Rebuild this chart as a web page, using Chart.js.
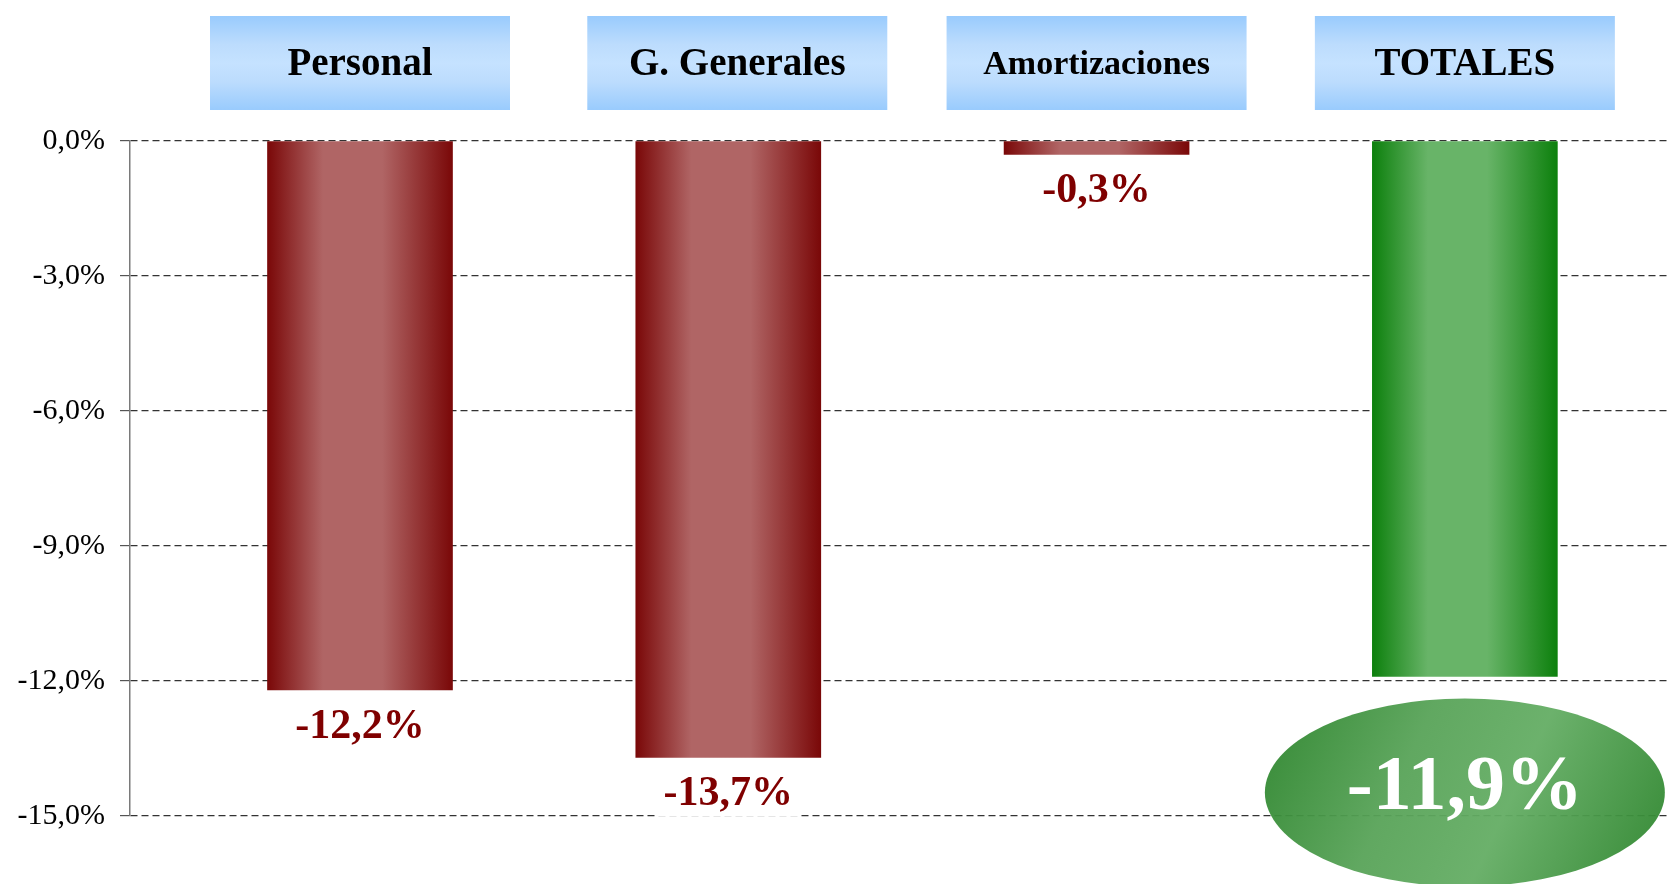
<!DOCTYPE html>
<html>
<head>
<meta charset="utf-8">
<script src="https://cdn.jsdelivr.net/npm/chart.js@4/dist/chart.umd.min.js"></script>
<style>
  html, body { margin: 0; padding: 0; background: #fff; }
  #wrap { width: 1670px; height: 884px; position: relative; }
</style>
</head>
<body>
<div id="wrap"><canvas id="chart" width="1670" height="884"></canvas></div>
<script>
/* données du graphique */
const categories = ["Personal", "G. Generales", "Amortizaciones", "TOTALES"];
const values = [-12.2, -13.7, -0.3, -11.9];
const yTicks = [0, -3, -6, -9, -12, -15];

// format des pourcentages (virgule décimale)
const fmt = v => (v === 0 ? 0 : v).toFixed(1).replace(".", ",") + "%";

const BAR_W = 185;
// léger décalage des cadres (comme sur l'original)
const boxShift = [0, 9, 0, 0];

// dégradé horizontal pour chaque barre
function barGradient(ctx, left, right, dark, light) {
  const g = ctx.createLinearGradient(left, 0, right, 0);
  g.addColorStop(0, dark);
  g.addColorStop(0.3, light);
  g.addColorStop(0.45, light);
  g.addColorStop(0.62, light);
  g.addColorStop(1, dark);
  return g;
}

/* plugin : cadres des catégories en haut + étiquettes des valeurs */
const decorPlugin = {
  id: "decor",
  beforeDatasetsDraw(chart) {
    // dégradés des barres, posés une fois les positions connues
    const meta = chart.getDatasetMeta(0);
    meta.data.forEach((bar, i) => {
      const half = BAR_W / 2;
      bar.options.backgroundColor = i === 3
        ? barGradient(chart.ctx, bar.x - half, bar.x + half, "#0d800d", "#68b468")
        : barGradient(chart.ctx, bar.x - half, bar.x + half, "#7a0808", "#b06565");
    });
  },
  afterDatasetsDraw(chart) {
    const ctx = chart.ctx;
    const xs = chart.scales.x;
    const ys = chart.scales.y;
    const meta = chart.getDatasetMeta(0);

    categories.forEach((cat, i) => {
      const cx = xs.getPixelForValue(i) + boxShift[i];
      // cadre bleu
      const w = 300, top = 16, h = 94;
      const g = ctx.createLinearGradient(0, top, 0, top + h);
      g.addColorStop(0, "#99cbfd");
      g.addColorStop(0.3, "#bcdcfd");
      g.addColorStop(0.5, "#c5e2ff");
      g.addColorStop(0.7, "#bcdcfd");
      g.addColorStop(1, "#99cbfd");
      ctx.save();
      ctx.fillStyle = g;
      ctx.fillRect(cx - w / 2, top, w, h);
      ctx.fillStyle = "#000";
      ctx.font = (i === 2 ? "bold 34px" : "bold 39px") + " 'Liberation Serif', serif";
      ctx.textAlign = "center";
      ctx.textBaseline = "middle";
      ctx.fillText(cat, cx, top + h / 2 + 2);
      ctx.restore();
    });

    values.forEach((v, i) => {
      const bar = meta.data[i];
      const cx = bar.x;
      const text = fmt(v);
      ctx.save();
      if (i === categories.length - 1) {
        // ellipse verte pour le total
        const cy = ys.getPixelForValue(v) + 116;
        const rx = 200, ry = 94;
        const rg = ctx.createLinearGradient(cx - rx, cy - ry, cx + rx, cy + ry);
        rg.addColorStop(0, "#2a832a");
        rg.addColorStop(0.35, "#58a358");
        rg.addColorStop(0.6, "#64ad64");
        rg.addColorStop(1, "#2a832a");
        ctx.globalAlpha = 0.95;
        ctx.fillStyle = rg;
        ctx.beginPath();
        ctx.ellipse(cx, cy, rx, ry, 0, 0, Math.PI * 2);
        ctx.fill();
        ctx.globalAlpha = 1;
        ctx.fillStyle = "#fff";
        ctx.font = "bold 78px 'Liberation Serif', serif";
        ctx.textAlign = "center";
        ctx.textBaseline = "middle";
        ctx.fillText(text, cx, cy - 4);
      } else {
        const cy = ys.getPixelForValue(v) + 37;
        ctx.font = "bold 42px 'Liberation Serif', serif";
        const tw = ctx.measureText(text).width;
        ctx.fillStyle = "#fff";
        ctx.fillRect(cx - tw / 2 - 6, cy - 22, tw + 12, 44);
        ctx.fillStyle = "#7f0000";
        ctx.textAlign = "center";
        ctx.textBaseline = "middle";
        ctx.fillText(text, cx, cy);
      }
      ctx.restore();
    });
  }
};

const canvas = document.getElementById("chart");

new Chart(canvas, {
  type: "bar",
  data: {
    datasets: [{
      data: values.map((v, i) => ({ x: i, y: v })),
      barThickness: BAR_W,
      // un tableau => options propres à chaque barre (non partagées)
      backgroundColor: ["#a04040", "#a04040", "#a04040", "#3a9a3a"],
      borderWidth: 0
    }]
  },
  options: {
    responsive: false,
    animation: false,
    layout: { padding: { top: 141, bottom: 68, left: 0, right: 0 } },
    plugins: {
      legend: { display: false },
      tooltip: { enabled: false }
    },
    scales: {
      x: {
        type: "linear",
        display: false,
        offset: false,
        min: -0.6245,
        max: 3.557
      },
      y: {
        min: -15,
        max: 0,
        afterFit: s => { s.width = 130; },
        afterBuildTicks: s => { s.ticks = yTicks.map(v => ({ value: v })); },
        ticks: {
          color: "#000",
          padding: 15,
          font: { family: "'Liberation Serif', serif", size: 30 },
          callback: v => fmt(v)
        },
        grid: {
          color: "#333",
          lineWidth: 1.2,
          tickLength: 10,
          tickColor: "#555"
        },
        border: { display: true, color: "#7a7a7a", width: 1.5, dash: [7, 4] }
      }
    }
  },
  plugins: [decorPlugin]
});
</script>
</body>
</html>
